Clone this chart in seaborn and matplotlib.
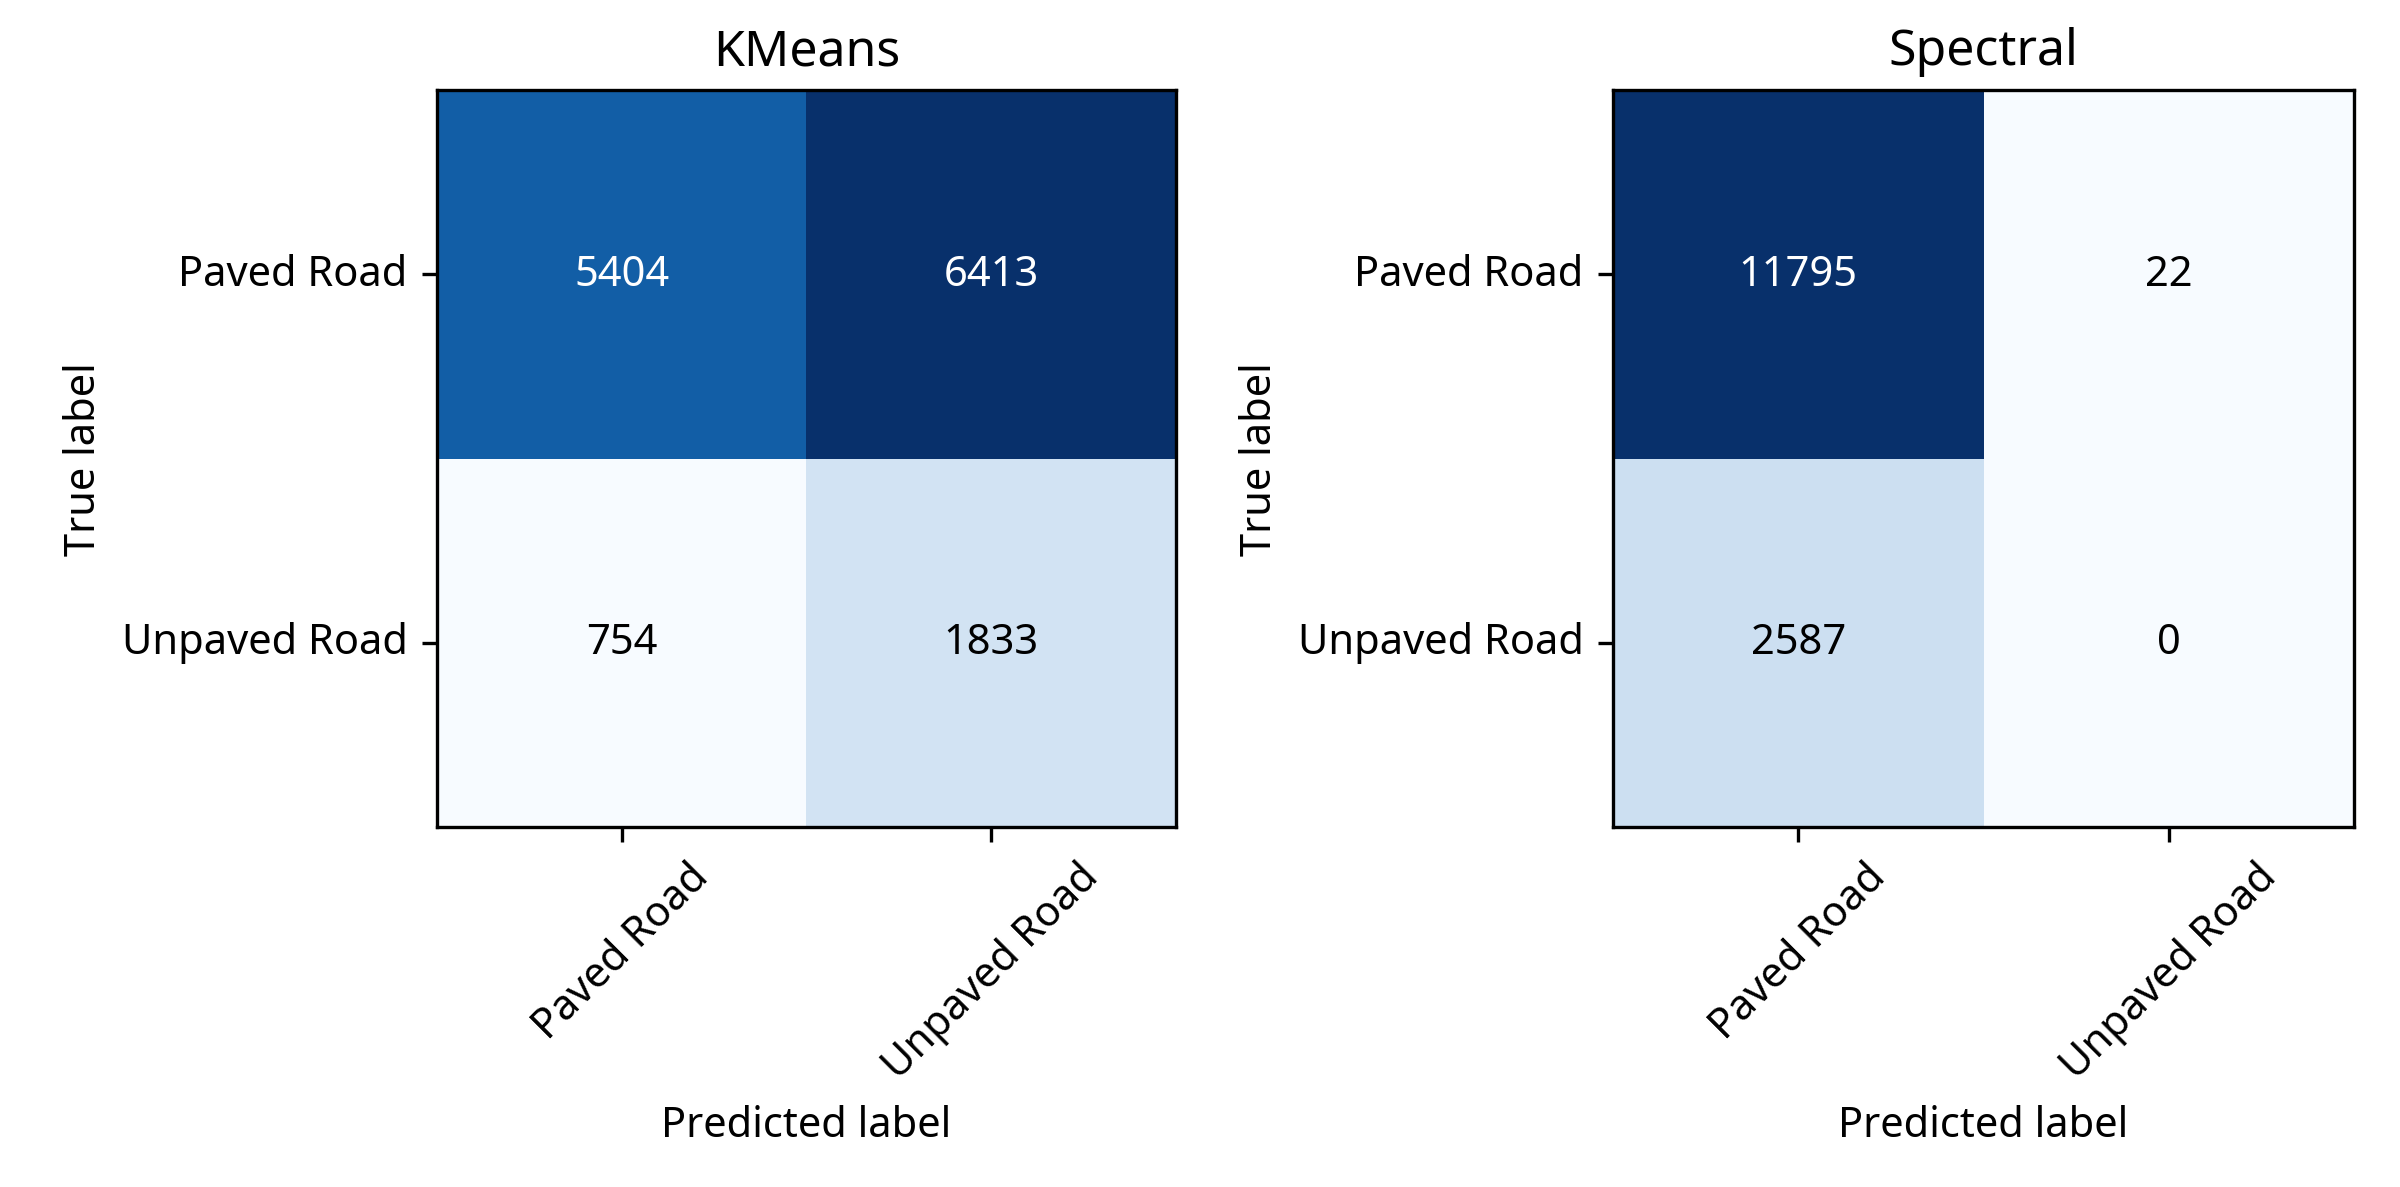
import numpy as np
import matplotlib.pyplot as plt
import seaborn as sns

classes = ['Paved Road', 'Unpaved Road']
kmeans_cm = [[5404, 6413], [754, 1833]]
spectral_cm = [[11795, 22], [2587, 0]]
titles = ['KMeans', 'Spectral']

plt.rcParams['font.family'] = ['Noto Sans', 'DejaVu Sans']

fig = plt.figure(figsize=(8, 3.957), dpi=300)
ax1 = fig.add_axes([0.182, 0.303, 0.308, 0.621])
ax2 = fig.add_axes([0.672, 0.303, 0.309, 0.621])

for ax, cm, title in zip([ax1, ax2], [kmeans_cm, spectral_cm], titles):
    cm = np.array(cm)
    sns.heatmap(cm, ax=ax, cmap='Blues', cbar=False, annot=False, square=False)
    thresh = cm.max() / 2.0
    for i in range(cm.shape[0]):
        for j in range(cm.shape[1]):
            ax.text(j + 0.5, i + 0.5, f"{cm[i, j]}", ha='center', va='center',
                    fontsize=10, color='white' if cm[i, j] > thresh else 'black')
    ax.set_xticks([0.5, 1.5])
    ax.set_yticks([0.5, 1.5])
    ax.set_xticklabels(classes, rotation=45)
    ax.set_yticklabels(classes, rotation=0)
    ax.tick_params(length=3.5, width=0.8)
    for s in ax.spines.values():
        s.set_visible(True)
        s.set_linewidth(0.8)
    ax.set_title(title, fontsize=12)
    ax.set_xlabel('Predicted label')
    ax.set_ylabel('True label')

fig.savefig('out.png', dpi=300)
